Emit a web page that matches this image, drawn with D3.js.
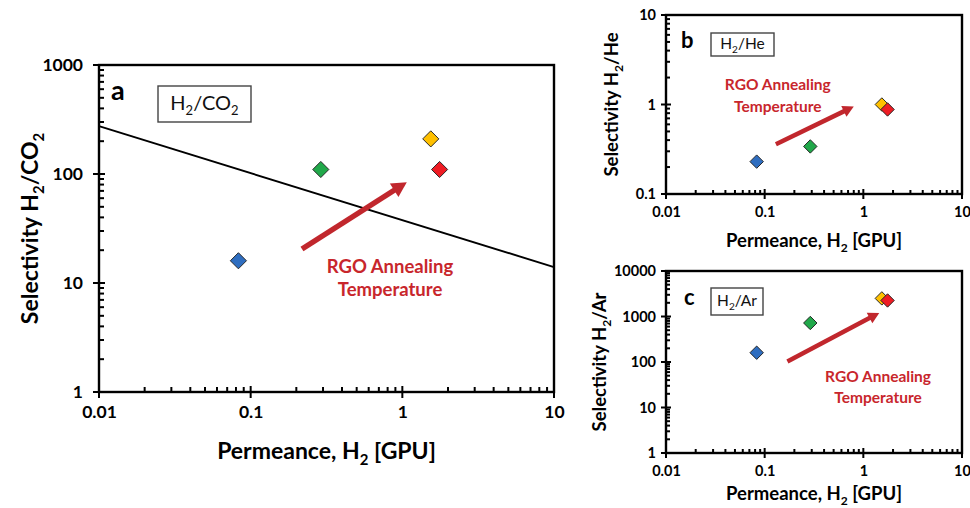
<!DOCTYPE html>
<html>
<head>
<meta charset="utf-8">
<script src="https://cdn.jsdelivr.net/npm/d3@7"></script>
<style>
  body { margin: 0; background: #fff; }
  text { font-family: Lato, "Open Sans", sans-serif; font-weight: bold; }
</style>
</head>
<body>
<svg width="970" height="508"></svg>
<script>
// sample order: lowest -> highest RGO annealing temperature
const sampleColors = ["#2f6ec0", "#21a84a", "#ffc000", "#ee1c24"];
const permeance = [0.083, 0.29, 1.54, 1.76];
const selCO2 = [16, 110, 210, 110];
const selHe = [0.23, 0.34, 1.0, 0.88];
const selAr = [160, 720, 2500, 2250];
const co2Bound = [[0.01, 275], [10, 14]];
const xTicks = [0.01, 0.1, 1, 10];

const svg = d3.select("svg");

const panel = (o) => {
  const x = d3.scaleLog().domain([0.01, 10]).range([o.left, o.right]);
  const y = d3.scaleLog().domain(o.yDomain).range([o.bottom, o.top]);
  const g = svg.append("g");

  // minor ticks per decade
  const minors = (dom) => {
    const out = [];
    for (let e = Math.round(Math.log10(dom[0])); e < Math.round(Math.log10(dom[1])); e++)
      for (let k = 2; k < 10; k++) out.push(k * Math.pow(10, e));
    return out;
  };
  const yTicks = d3.range(Math.round(Math.log10(o.yDomain[0])), Math.round(Math.log10(o.yDomain[1])) + 1)
    .map(e => Math.pow(10, e));

  // frame
  g.append("rect")
    .attr("x", o.left).attr("y", o.top)
    .attr("width", o.right - o.left).attr("height", o.bottom - o.top)
    .attr("fill", "none").attr("stroke", "#000").attr("stroke-width", 2.4);

  g.selectAll(".xminor").data(minors(x.domain())).enter().append("line")
    .attr("x1", d => x(d)).attr("x2", d => x(d))
    .attr("y1", o.bottom).attr("y2", o.bottom - o.minor)
    .attr("stroke", "#000").attr("stroke-width", 2);
  g.selectAll(".xmajor").data(xTicks).enter().append("line")
    .attr("x1", d => x(d)).attr("x2", d => x(d))
    .attr("y1", o.bottom - o.major).attr("y2", o.bottom + o.major)
    .attr("stroke", "#000").attr("stroke-width", 2);
  g.selectAll(".yminor").data(minors(y.domain())).enter().append("line")
    .attr("y1", d => y(d)).attr("y2", d => y(d))
    .attr("x1", o.left).attr("x2", o.left + o.minor)
    .attr("stroke", "#000").attr("stroke-width", 2);
  g.selectAll(".ymajor").data(yTicks).enter().append("line")
    .attr("y1", d => y(d)).attr("y2", d => y(d))
    .attr("x1", o.left - o.major).attr("x2", o.left + o.major)
    .attr("stroke", "#000").attr("stroke-width", 2);

  // tick labels through the axis generators
  const xa = g.append("g").attr("transform", `translate(0,${o.bottom})`)
    .call(d3.axisBottom(x).tickValues(xTicks).tickFormat(d => String(d)).tickSize(0).tickPadding(o.xPad));
  const ya = g.append("g").attr("transform", `translate(${o.left},0)`)
    .call(d3.axisLeft(y).tickValues(yTicks).tickFormat(d => String(d)).tickSize(0).tickPadding(o.yPad));
  [xa, ya].forEach(a => {
    a.select(".domain").remove();
    a.selectAll("text").attr("font-size", o.tickFont).attr("font-family", "Lato, sans-serif")
      .attr("font-weight", "bold").attr("fill", "#000");
  });

  // axis titles
  const xt = g.append("text").attr("x", (o.left + o.right) / 2).attr("y", o.xTitleY)
    .attr("text-anchor", "middle").attr("font-size", o.titleFont);
  xt.append("tspan").text("Permeance, H");
  xt.append("tspan").text("2").attr("font-size", o.titleFont * 0.65).attr("dy", o.titleFont * 0.25);
  xt.append("tspan").text(" [GPU]").attr("dy", -o.titleFont * 0.25);

  const yt = g.append("text")
    .attr("transform", `translate(${o.yTitleX},${(o.top + o.bottom) / 2}) rotate(-90)`)
    .attr("text-anchor", "middle").attr("font-size", o.titleFont);
  subText(yt, o.yTitle, o.titleFont);

  // panel letter + gas pair box
  g.append("text").attr("x", o.left + o.letterDx).attr("y", o.top + o.letterDy)
    .attr("font-size", o.letterFont).text(o.letter);
  g.append("rect").attr("x", o.left + o.box[0]).attr("y", o.top + o.box[1])
    .attr("width", o.box[2]).attr("height", o.box[3])
    .attr("fill", "#fff").attr("stroke", "#444").attr("stroke-width", 1.4);
  const bt = g.append("text").attr("x", o.left + o.box[0] + o.box[2] / 2)
    .attr("y", o.top + o.box[1] + o.box[3] / 2 + o.boxFont * 0.3)
    .attr("text-anchor", "middle").attr("font-size", o.boxFont)
    .style("font-weight", "normal").attr("fill", "#111");
  subText(bt, o.pair, o.boxFont);

  // bound line
  if (o.bound) {
    g.append("path").datum(o.bound)
      .attr("d", d3.line().x(d => x(d[0])).y(d => y(d[1])))
      .attr("fill", "none").attr("stroke", "#000").attr("stroke-width", 1.9);
  }

  // arrow
  const [p0, p1] = o.arrow.map(d => [x(d[0]), y(d[1])]);
  const ang = Math.atan2(p1[1] - p0[1], p1[0] - p0[0]);
  const hl = o.arrowHead[0], hw = o.arrowHead[1];
  const bx = p1[0] - hl * Math.cos(ang), by = p1[1] - hl * Math.sin(ang);
  g.append("line").attr("x1", p0[0]).attr("y1", p0[1]).attr("x2", bx + Math.cos(ang)).attr("y2", by + Math.sin(ang))
    .attr("stroke", "#c1272d").attr("stroke-width", o.arrowW);
  g.append("path")
    .attr("d", `M${p1[0]},${p1[1]}L${bx - hw * Math.sin(ang)},${by + hw * Math.cos(ang)}L${bx + hw * Math.sin(ang)},${by - hw * Math.cos(ang)}Z`)
    .attr("fill", "#c1272d");

  g.selectAll(".ann").data(o.note).enter().append("text")
    .attr("x", d => x(d[0])).attr("y", d => y(d[1]))
    .attr("text-anchor", "middle").attr("font-size", o.noteFont).attr("fill", "#c8262c")
    .text(d => d[2]);

  // diamonds
  g.selectAll(".pt").data(o.values).enter().append("path")
    .attr("d", d3.symbol().type(d3.symbolSquare).size(o.markSize))
    .attr("transform", (d, i) => `translate(${x(permeance[i])},${y(d)}) rotate(45)`)
    .attr("fill", (d, i) => sampleColors[i])
    .attr("stroke", "#222").attr("stroke-width", 0.9);
};

// text with subscript digits after letters, e.g. "H2/CO2"
function subText(sel, str, fs) {
  const parts = str.split(/(\d)/).filter(s => s.length);
  let sub = false;
  parts.forEach(p => {
    const isSub = /^\d$/.test(p);
    const t = sel.append("tspan").text(p);
    if (isSub && !sub) { t.attr("font-size", fs * 0.65).attr("dy", fs * 0.25); sub = true; }
    else if (!isSub && sub) { t.attr("dy", -fs * 0.25); sub = false; }
  });
}

panel({
  left: 99, right: 554, top: 65, bottom: 392, yDomain: [1, 1000],
  values: selCO2, bound: co2Bound,
  major: 6, minor: 5, tickFont: 17.5, xPad: 14, yPad: 16,
  titleFont: 23, xTitleY: 459, yTitleX: 38, yTitle: "Selectivity H2/CO2",
  letter: "a", letterDx: 12, letterDy: 35, letterFont: 27,
  box: [59, 21, 93, 36], boxFont: 20, pair: "H2/CO2",
  arrow: [[0.218, 20.5], [1.07, 84]], arrowHead: [15, 8], arrowW: 5.5,
  note: [[0.83, 12.4, "RGO Annealing"], [0.83, 7.6, "Temperature"]], noteFont: 18.5,
  markSize: 130
});

panel({
  left: 666, right: 962, top: 15, bottom: 194, yDomain: [0.1, 10],
  values: selHe,
  major: 5, minor: 4, tickFont: 14.5, xPad: 13, yPad: 10,
  titleFont: 18.5, xTitleY: 247, yTitleX: 618, yTitle: "Selectivity H2/He",
  letter: "b", letterDx: 15, letterDy: 33, letterFont: 22,
  box: [45, 18, 63, 23], boxFont: 15.5, pair: "H2/He",
  arrow: [[0.13, 0.36], [0.8, 0.95]], arrowHead: [11, 6], arrowW: 4.5,
  note: [[0.136, 1.45, "RGO Annealing"], [0.136, 0.83, "Temperature"]], noteFont: 15.5,
  markSize: 90
});

panel({
  left: 666, right: 962, top: 271, bottom: 453, yDomain: [1, 10000],
  values: selAr,
  major: 5, minor: 4, tickFont: 14.5, xPad: 13, yPad: 10,
  titleFont: 18.5, xTitleY: 500, yTitleX: 606, yTitle: "Selectivity H2/Ar",
  letter: "c", letterDx: 18, letterDy: 34, letterFont: 22,
  box: [45, 17, 52, 27], boxFont: 15.5, pair: "H2/Ar",
  arrow: [[0.17, 102], [1.45, 1200]], arrowHead: [11, 6], arrowW: 4.5,
  note: [[1.41, 36, "RGO Annealing"], [1.41, 12.6, "Temperature"]], noteFont: 15.5,
  markSize: 90
});
</script>
</body>
</html>
